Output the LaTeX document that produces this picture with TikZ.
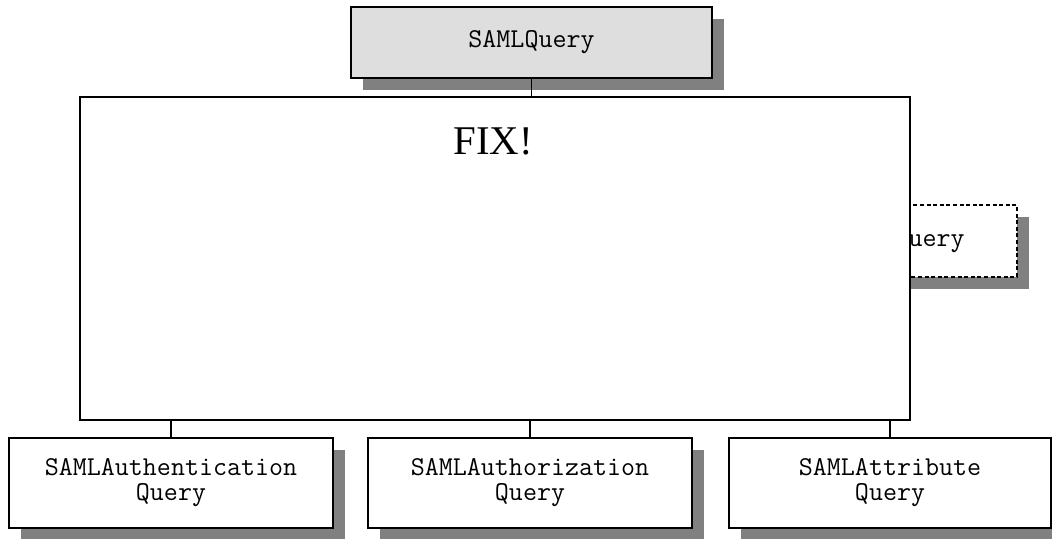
\documentclass[tikz,border=0pt]{standalone}
\usepackage{fontspec}
\setmainfont{Liberation Serif}
\usepackage{tikz}
\usetikzlibrary{shadows, calc}

\begin{document}
\begin{tikzpicture}[
  x=0.5pt, y=-0.5pt,
  cls/.style = {draw, line width=0.6pt, fill=white, inner sep=0pt, outer sep=0pt,
                align=center, font=\ttfamily\fontsize{13.6}{12.5}\selectfont,
                drop shadow={shadow xshift=6pt, shadow yshift=-6pt, fill=black!50, opacity=1}},
  link/.style = {line width=0.6pt}
]
  \useasboundingbox (0,0) rectangle (1052,538);

  % Optional class, partly hidden behind the note
  \node[cls, dashed, line width=0.75pt, dash pattern=on 2pt off 1.3pt,
        minimum width=115.5pt, minimum height=36pt]
    (other) at (901.5,241) {SAMLQuery};

  % Abstract base class
  \node[cls, fill=black!13, minimum width=180.5pt, minimum height=35.5pt]
    (query) at (531.5,42.5) {SAMLQuery};

  % Note covering the hierarchy
  \node[draw, line width=0.6pt, fill=white, inner sep=0pt, outer sep=0pt,
        minimum width=415pt, minimum height=161.5pt]
    (note) at (495,258.5) {};
  \node[font=\fontsize{20.4}{24}\selectfont] (fix) at (493,141) {FIX!};

  % Concrete query classes
  \node[cls, minimum width=162pt, minimum height=45pt]
    (authn) at (171,483) {SAMLAuthentication\\Query};
  \node[cls, minimum width=162pt, minimum height=45pt]
    (authz) at (530,483) {SAMLAuthorization\\Query};
  \node[cls, minimum width=161pt, minimum height=45pt]
    (attr) at (890,483) {SAMLAttribute\\Query};

  % Inheritance links
  \draw[link] (query.south) -- (query.south |- note.north);
  \draw[link] (authn.north |- note.south) -- (authn.north);
  \draw[link] (authz.north |- note.south) -- (authz.north);
  \draw[link] (attr.north |- note.south) -- (attr.north);

\end{tikzpicture}
\end{document}
